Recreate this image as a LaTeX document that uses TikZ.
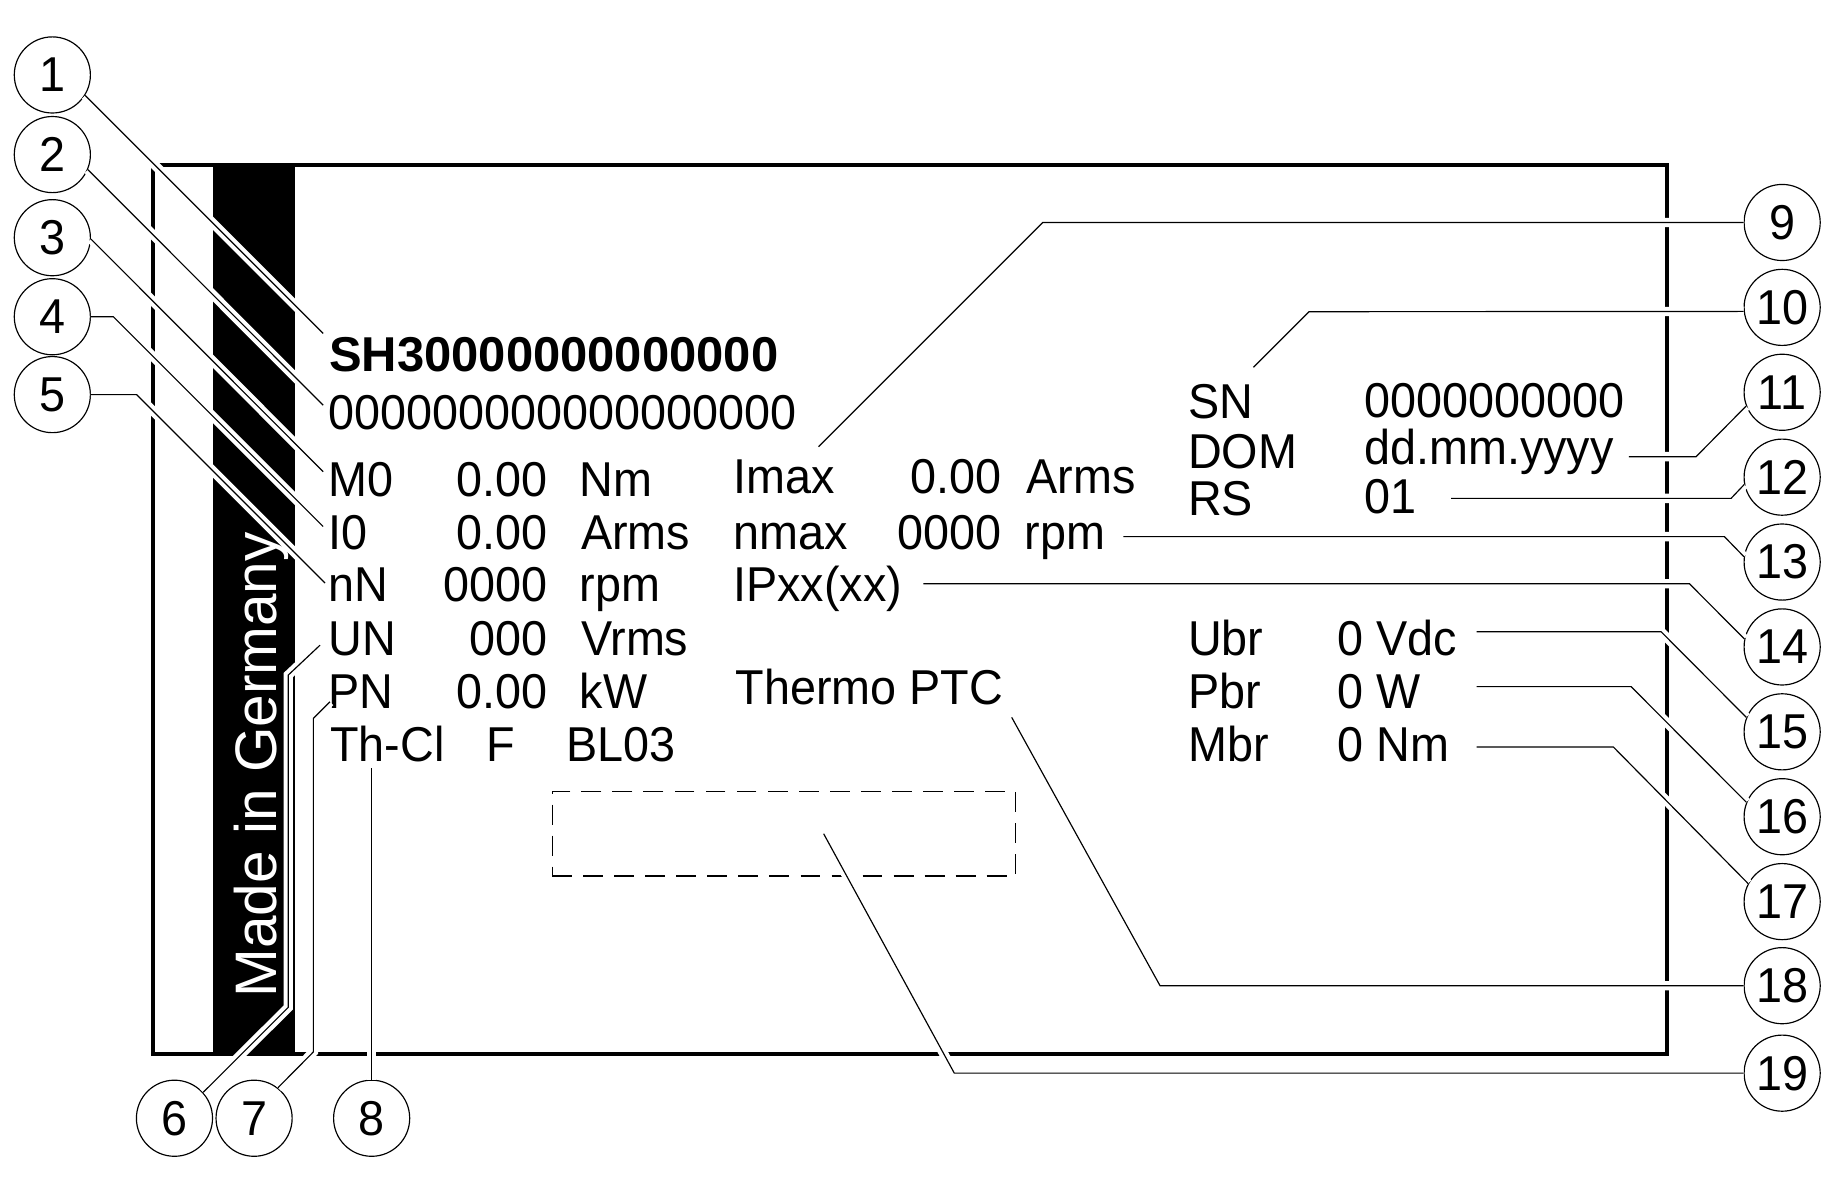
\documentclass[tikz,border=0pt]{standalone}
\usepackage{fontspec}
\setmainfont{Liberation Sans}[FakeStretch=0.955]
\newfontfamily\widefont{Liberation Sans}
\begin{document}
\begin{tikzpicture}[x=1pt,y=-1pt,
  txt/.style={inner sep=0pt, font=\fontsize{41.8}{50}\selectfont},
  lab/.style={txt, anchor=base west},
  val/.style={txt, anchor=base east},
  callout/.style={circle, draw, line width=1pt, minimum size=65pt, inner sep=0pt, fill=white, font=\fontsize{41.8}{50}\selectfont},
  leader/.style={line width=1pt, line cap=butt, line join=miter, preaction={draw=white, line width=8pt}},
]
\useasboundingbox (0,0) rectangle (1568,1015);

% plate
\fill[black] (182,141) rectangle (252,900);
\node[draw, line width=3.4pt, minimum width=1293pt, minimum height=759pt, inner sep=0pt] (plate) at (777.5,520.5) {};
\node[txt, text=white, rotate=90, anchor=base west, font=\widefont\fontsize{50}{60}\selectfont] (made) at (236.3,852) {Made in Germany};

% left block
\node[lab, font=\widefont\fontsize{41.8}{50}\selectfont\bfseries] (type) at (281,317.5) {SH30000000000000};
\node[lab] (code) at (280.5,367) {000000000000000000};
\node[lab] (m0) at (280.5,424) {M0};   \node[val] (m0v) at (467.7,424) {0.00}; \node[lab] (m0u) at (495,424) {Nm};
\node[lab] (i0) at (280.5,469) {I0};   \node[val] (i0v) at (467.7,469) {0.00}; \node[lab] (i0u) at (496,469) {Arms};
\node[lab] (nn) at (280.5,514) {nN};   \node[val] (nnv) at (467.7,514) {0000}; \node[lab] (nnu) at (495,514) {rpm};
\node[lab] (un) at (280.5,559.5) {UN}; \node[val] (unv) at (467.7,559.5) {000}; \node[lab] (unu) at (496,559.5) {Vrms};
\node[lab] (pn) at (280.5,605) {PN};   \node[val] (pnv) at (467.7,605) {0.00}; \node[lab] (pnu) at (495,605) {kW};
\node[lab] (th) at (282,650.5) {Th-Cl}; \node[lab] (thf) at (415,650.5) {F}; \node[lab] (thb) at (483.7,650.5) {BL03};

% middle block
\node[lab] (imax) at (626,421.5) {Imax}; \node[val] (imaxv) at (855.7,421.5) {0.00}; \node[lab] (imaxu) at (876.5,421.5) {Arms};
\node[lab] (nmax) at (626,469) {nmax}; \node[val] (nmaxv) at (855.7,469) {0000}; \node[lab] (nmaxu) at (875,469) {rpm};
\node[lab] (ip) at (626,513.5) {IPxx(xx)};
\node[lab] (thermo) at (628,602) {Thermo PTC};

% right block
\node[lab] (sn) at (1015,357) {SN};   \node[lab] (snv) at (1165,356.5) {0000000000};
\node[lab] (dom) at (1014.5,400) {DOM}; \node[lab] (domv) at (1165,396.5) {dd.mm.yyyy};
\node[lab] (rs) at (1014.5,440) {RS};  \node[lab] (rsv) at (1165,438.5) {01};
\node[lab] (ubr) at (1014.5,559.5) {Ubr}; \node[lab] (ubrv) at (1142,559.5) {0 Vdc};
\node[lab] (pbr) at (1014.5,605) {Pbr}; \node[lab] (pbrv) at (1142,605) {0 W};
\node[lab] (mbr) at (1014.5,650.5) {Mbr}; \node[lab] (mbrv) at (1142,650.5) {0 Nm};

% dashed field
\node[draw, line width=1pt, dash pattern=on 17pt off 9.5pt, minimum width=395.7pt, minimum height=72pt, inner sep=0pt] (field) at (669.5,712.1) {};

% callout circles
\node[callout] (c1) at (44.7,64) {1};
\node[callout] (c2) at (44.7,132) {2};
\node[callout] (c3) at (44.7,203) {3};
\node[callout] (c4) at (44.7,270.5) {4};
\node[callout] (c5) at (44.7,337) {5};
\node[callout] (c6) at (149,955) {6};
\node[callout] (c7) at (217,955) {7};
\node[callout] (c8) at (317.4,955) {8};
\node[callout] (c9) at (1522,190) {9};
\node[callout] (c10) at (1522,262.5) {10};
\node[callout] (c11) at (1522,335) {11};
\node[callout] (c12) at (1522,407.5) {12};
\node[callout] (c13) at (1522,480) {13};
\node[callout] (c14) at (1522,552.5) {14};
\node[callout] (c15) at (1522,625) {15};
\node[callout] (c16) at (1522,697.5) {16};
\node[callout] (c17) at (1522,770) {17};
\node[callout] (c18) at (1522,841.8) {18};
\node[callout] (c19) at (1522,916.5) {19};

% leader end points and bends
\coordinate (e1) at (276,284.7);
\coordinate (e2) at (276,346);
\coordinate (e3) at (276,402.8);
\coordinate (b4) at (96.8,270.5);  \coordinate (e4) at (276,449.7);
\coordinate (b5) at (116.7,337);   \coordinate (e5) at (277.6,497.9);
\coordinate (b6) at (246.2,860.3); \coordinate (a6) at (246.2,576.5); \coordinate (e6) at (273.3,551);
\coordinate (b7) at (267.6,898.4); \coordinate (a7) at (267.6,613.5); \coordinate (e7) at (281.8,599.3);
\coordinate (e8) at (317.4,656);
\coordinate (b9) at (890.5,190);   \coordinate (e9) at (699,381.5);
\coordinate (b10) at (1118,266.2); \coordinate (e10) at (1070.4,313.7);
\coordinate (b11) at (1448.5,390); \coordinate (e11) at (1391,390);
\coordinate (b12) at (1478.4,425.6); \coordinate (e12) at (1239.2,425.6);
\coordinate (b13) at (1472.7,458.3); \coordinate (e13) at (959.4,458.3);
\coordinate (b14) at (1442.8,498.5); \coordinate (e14) at (788.6,498.5);
\coordinate (b15) at (1418.6,539.5); \coordinate (e15) at (1261,539.5);
\coordinate (b16) at (1393,586.4);  \coordinate (e16) at (1261,586.4);
\coordinate (b17) at (1377.9,638);  \coordinate (e17) at (1261,638);
\coordinate (b18) at (990.7,841.8); \coordinate (e18) at (864,612.6);
\coordinate (b19) at (815,916.5);   \coordinate (e19) at (703.4,712);

% leaders
\draw[leader] (c1.-32) -- (e1);
\draw[leader] (c2.-23) -- (e2);
\draw[leader] (c3.-2) -- (e3);
\draw[leader] (c4.east) -- (b4) -- (e4);
\draw[leader] (c5.east) -- (b5) -- (e5);
\draw[leader] (c6.42) -- (b6) -- (a6) -- (e6);
\draw[leader] (c7.52) -- (b7) -- (a7) -- (e7);
\draw[leader] (c8.north) -- (e8);
\draw[leader] (c9.west) -- (b9) -- (e9);
\draw[leader] (c10.186) -- (b10) -- (e10);
\draw[leader] (c11.201) -- (b11) -- (e11);
\draw[leader] (c12.191) -- (b12) -- (e12);
\draw[leader] (c13.172) -- (b13) -- (e13);
\draw[leader] (c14.168) -- (b14) -- (e14);
\draw[leader] (c15.158) -- (b15) -- (e15);
\draw[leader] (c16.158) -- (b16) -- (e16);
\draw[leader] (c17.152) -- (b17) -- (e17);
\draw[leader] (c18.west) -- (b18) -- (e18);
\draw[leader] (c19.west) -- (b19) -- (e19);
\end{tikzpicture}
\end{document}
